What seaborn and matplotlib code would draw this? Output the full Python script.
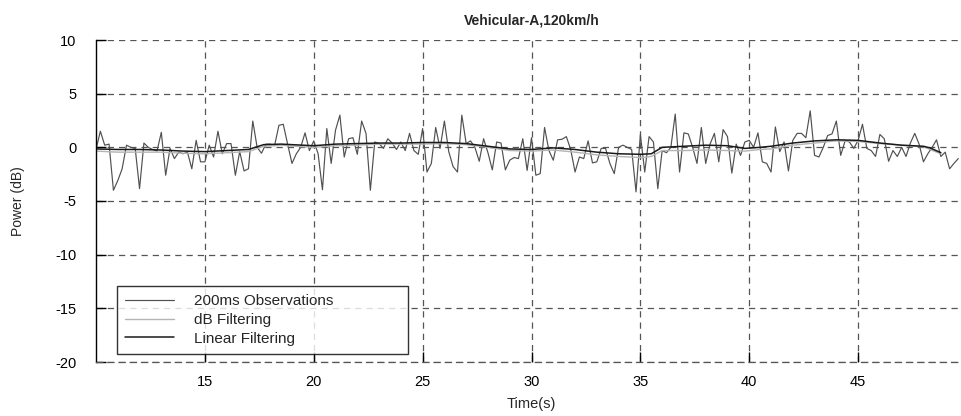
import numpy as np
import pandas as pd
import seaborn as sns
import matplotlib.pyplot as plt

# --- DATA ---
# 200 ms observations, one sample every 0.2 s starting at t = 10 s
OBS_START = 10.0
OBS_STEP = 0.2
obs_db = [
    -0.2, 1.5, 0.2, 0.3, -4.0, -3.1, -2.0, 0.2, 0.0, -0.1,
    -3.85, 0.4, 0.0, -0.2, -0.35, 1.4, -2.6, -0.1, -1.05, -0.45,
    -0.6, -0.45, -2.0, 0.65, -1.35, -1.35, 0.2, -0.9, 1.5, -0.6,
    0.35, 0.35, -2.6, -0.4, -2.2, -2.0, 2.45, 0.0, -0.55, 0.3,
    0.3, 0.15, 2.05, 2.15, 0.3, -1.5, -0.6, 0.0, 1.35, -0.3,
    0.6, -0.6, -3.95, 1.75, -1.5, 1.6, 3.0, -0.9, 0.8, 0.9,
    -0.65, 2.45, 1.3, -4.0, 0.5, 0.35, -0.1, 0.8, 0.4, -0.2,
    0.5, -0.3, 1.3, -0.3, -0.65, 1.75, -2.3, -1.5, 1.85, -0.1,
    2.45, -0.4, -1.8, -2.3, 3.0, 0.35, 0.6, 0.0, -1.3, 0.8,
    -0.5, -2.1, 0.5, 0.4, -2.1, -1.2, -0.95, -1.05, 0.8, -2.15,
    0.9, -2.6, -2.45, 1.85, -0.3, -1.2, 0.7, 0.75, 1.0, -0.2,
    -2.3, -0.9, -1.05, 0.6, -1.45, -1.35, -0.1, -0.1, -1.5, -2.45,
    0.0, 0.2, 0.0, -0.2, -4.15, 1.2, -2.3, 1.0, 0.5, -3.85,
    -0.3, -0.5, 0.0, 3.1, -2.3, 1.35, 1.25, 0.0, -1.5, 1.85,
    -1.5, 0.3, 1.3, -1.35, 1.65, 1.0, -2.4, 0.3, -0.75, 0.5,
    0.65, 0.0, 1.35, -1.35, -1.5, -2.3, 1.9, -0.4, 0.5, -2.2,
    0.65, 1.3, 1.3, 0.9, 3.4, -0.75, -0.9, 0.0, 1.1, 1.25,
    2.45, -0.75, 0.6, 0.5, -0.1, 0.65, 2.15, -0.1, -0.3, -0.85,
    1.2, 0.8, -1.3, -0.3, -0.85, 0.0, -0.85, 0.4, 1.3, 0.3,
    -1.35, -0.6, 0.0, 0.7, -0.85, -0.45, -2.0, -1.5, -1.05,
]

# Filtered estimates (smooth curves)
filt_time = [10, 11, 12, 13, 14, 15, 16, 17, 17.7, 18.5, 19.5, 20, 21, 22,
             23, 24, 25, 26, 27, 28, 29, 30, 31, 32, 33, 34, 35, 35.5, 36,
             37, 38, 39, 39.8, 40.5, 41, 42, 43, 44, 45, 46, 47, 48, 48.3, 48.8]
linear_filt = [-0.15, -0.2, -0.2, -0.25, -0.35, -0.4, -0.3, -0.2, 0.25, 0.3,
               0.2, 0.15, 0.3, 0.35, 0.4, 0.4, 0.45, 0.45, 0.35, 0.1, -0.15,
               -0.2, -0.05, -0.2, -0.45, -0.6, -0.65, -0.6, 0.0, 0.1, 0.2,
               0.15, -0.1, 0.0, 0.1, 0.4, 0.6, 0.7, 0.65, 0.4, 0.2, 0.1,
               -0.05, -0.5]
db_filt = [-0.35, -0.45, -0.45, -0.45, -0.55, -0.6, -0.5, -0.4, 0.1, 0.2,
           0.05, 0.0, 0.15, 0.2, 0.3, 0.3, 0.3, 0.35, 0.25, 0.0, -0.3,
           -0.35, -0.25, -0.45, -0.7, -0.85, -0.95, -0.85, -0.3, -0.3, -0.25,
           -0.3, -0.35, -0.2, -0.15, 0.2, 0.4, 0.6, 0.55, 0.35, 0.2, 0.05,
           -0.2, -0.6]

TITLE = "Vehicular-A,120km/h"
X_TICKS = [15, 20, 25, 30, 35, 40, 45]
Y_TICKS = [-20, -15, -10, -5, 0, 5, 10]


def main():
    obs_time = OBS_START + OBS_STEP * np.arange(len(obs_db))
    df_obs = pd.DataFrame({"t": obs_time, "p": obs_db})
    df_filt = pd.DataFrame({"t": filt_time, "lin": linear_filt, "db": db_filt})

    sns.set_theme(style="white")
    plt.rcParams["font.family"] = ["Liberation Sans", "DejaVu Sans"]
    plt.rcParams["axes.unicode_minus"] = False

    fig = plt.figure(figsize=(9.61, 4.16), dpi=100)
    ax = fig.add_axes([96 / 961, 54 / 416, 871 / 961, 322 / 416])

    sns.lineplot(data=df_obs, x="t", y="p", color="#505050", linewidth=0.85,
                 label="200ms Observations", ax=ax)
    sns.lineplot(data=df_filt, x="t", y="db", color="#b4b4b4", linewidth=1.0,
                 label="dB Filtering", ax=ax)
    sns.lineplot(data=df_filt, x="t", y="lin", color="#1a1a1a", linewidth=1.1,
                 label="Linear Filtering", ax=ax)

    ax.set_xlim(10, 50)
    ax.set_ylim(-20, 10)
    ax.set_xticks(X_TICKS)
    ax.set_yticks(Y_TICKS)

    # dashed grid, no box (MATLAB style)
    ax.grid(True, linestyle=(0, (5, 4)), color="#555555", linewidth=0.9)
    ax.set_axisbelow(True)
    for side in ["top", "right"]:
        ax.spines[side].set_visible(False)
    ax.spines["bottom"].set_linestyle((0, (5, 4)))
    ax.spines["bottom"].set_color("#555555")
    ax.spines["bottom"].set_linewidth(0.9)
    ax.spines["left"].set_color("black")
    ax.spines["left"].set_linewidth(1.0)
    ax.tick_params(direction="in", length=7, width=1, colors="black",
                   labelsize=10.5, left=True, bottom=True)
    ax.tick_params(axis="x", pad=9)
    ax.tick_params(axis="y", pad=14)

    ax.set_title(TITLE, fontsize=10, fontweight="bold", pad=11)
    ax.set_xlabel("Time(s)", fontsize=10.5, labelpad=6)
    ax.set_ylabel("Power (dB)", fontsize=10, labelpad=22)

    leg = ax.legend(loc="lower left", bbox_to_anchor=(0.024, 0.025, 0.334, 0.2),
                    mode="expand", borderaxespad=0, fontsize=11, frameon=True,
                    fancybox=False, handlelength=3.2, handletextpad=1.3,
                    borderpad=0.55, labelspacing=0.3)
    leg.get_frame().set_edgecolor("black")
    leg.get_frame().set_linewidth(1.0)

    plt.savefig("out.png", dpi=100, facecolor="white")
    plt.close()


if __name__ == "__main__":
    main()
